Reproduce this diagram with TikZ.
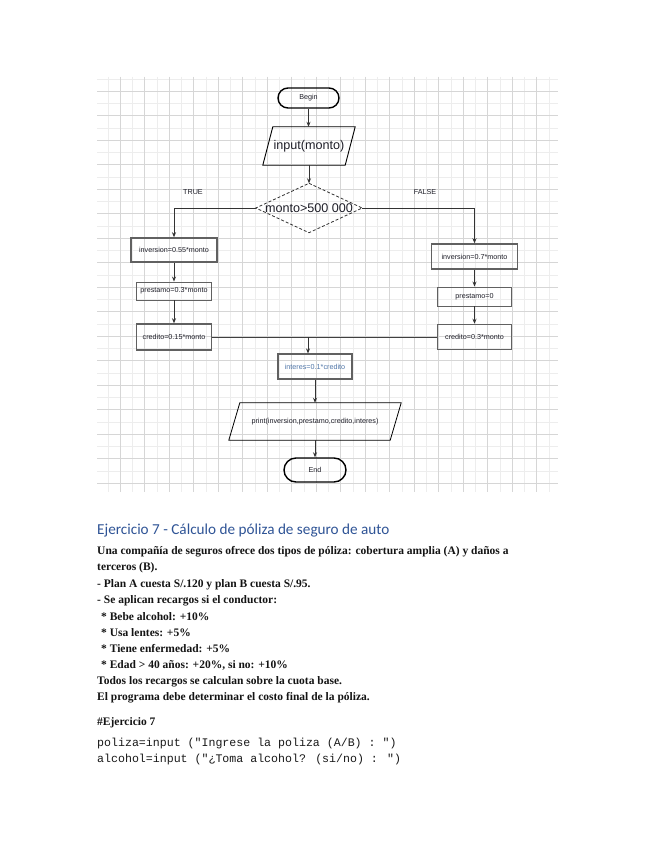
\documentclass[tikz,border=0pt]{standalone}
\usepackage{fontspec}
\setmainfont{Liberation Serif}
\newfontfamily\sansf{Liberation Sans}
\newfontfamily\headf{Carlito}
\newfontfamily\monof{Liberation Mono}
\usetikzlibrary{arrows.meta,calc}
\definecolor{headblue}{RGB}{47,84,150}
\definecolor{txtdark}{RGB}{30,30,40}
\definecolor{intcol}{RGB}{80,118,168}
\begin{document}
\begin{tikzpicture}[x=1pt,y=-1pt,
  gridmajor/.style={draw=black!16, line width=0.6pt},
  gridminor/.style={draw=black!7, line width=0.4pt},
  arr/.style={draw=black!80, line width=0.8pt, -{Stealth[length=5pt,width=4pt]}},
  conn/.style={draw=black!75, line width=0.8pt},
  flowtxt/.style={font=\sansf\fontsize{7.2}{8}\selectfont, text=txtdark},
  term/.style={draw=black, line width=1.4pt, inner sep=0pt, flowtxt},
  procthick/.style={draw=black!62, line width=1.5pt, inner sep=0pt, flowtxt},
  procthin/.style={draw=black!62, line width=0.9pt, inner sep=0pt, flowtxt},
  ioshape/.style={inner sep=0pt},
  bodytxt/.style={font=\bfseries\fontsize{11.5}{13}\selectfont, inner sep=0pt, text=black!92, anchor=base west},
  codetxt/.style={font=\monof\fontsize{11.6}{13}\selectfont, inner sep=0pt, text=black!90, anchor=base west},
  headtxt/.style={font=\headf\fontsize{15.2}{17}\selectfont, inner sep=0pt, text=headblue, anchor=base west}
]
\useasboundingbox (0,0) rectangle (655,848);
\fill[white] (0,0) rectangle (655,848);
% grid background
\foreach \k in {0,...,36} {\draw[gridminor] ({107.75+12.25*\k},77) -- ({107.75+12.25*\k},492);}
\foreach \k in {0,...,33} {\draw[gridminor] (97,{483-12.25*\k}) -- (558,{483-12.25*\k});}
\foreach \k in {0,...,17} {\draw[gridmajor] ({120+24.5*\k},77) -- ({120+24.5*\k},492);}
\foreach \k in {0,...,16} {\draw[gridmajor] (97,{483-24.5*\k}) -- (558,{483-24.5*\k});}

% terminals
\node[term, rounded corners=10pt, minimum width=61pt, minimum height=20pt] (begin) at (308.5,98) {Begin};
% input parallelogram
\node[ioshape, minimum width=92pt, minimum height=38pt, font=\sansf\fontsize{12.6}{14}\selectfont, text=txtdark] (inp) at (309,146) {input(monto)};
\draw[black, line width=0.9pt] ($(inp.north west)+(10,0)$) -- (inp.north east) -- ($(inp.south east)+(-10,0)$) -- (inp.south west) -- cycle;
% decision
\node[inner sep=0pt, minimum width=106pt, minimum height=49pt, font=\sansf\fontsize{12.6}{14}\selectfont, text=txtdark] (dec) at (309,208) {monto>500 000};
\draw[black!80, line width=0.8pt, dash pattern=on 3pt off 2pt] (dec.north) -- (dec.east) -- (dec.south) -- (dec.west) -- cycle;
\node[flowtxt, inner sep=0pt] (tl) at (193,192) {TRUE};
\node[flowtxt, inner sep=0pt] (fl) at (425,192) {FALSE};

% left branch
\node[procthick, minimum width=86pt, minimum height=24pt] (lb1) at (174,250) {inversion=0.55*monto};
\node[procthin, minimum width=75pt, minimum height=18pt] (lb2) at (174,291) {prestamo=0.3*monto};
\node[procthick, minimum width=75pt, minimum height=26pt] (lb3) at (174,337) {credito=0.15*monto};
% right branch
\node[procthick, minimum width=86pt, minimum height=25pt] (rb1) at (474.5,256.5) {inversion=0.7*monto};
\node[procthin, minimum width=74pt, minimum height=19pt] (rb2) at (474.5,296.5) {prestamo=0};
\node[procthick, minimum width=74pt, minimum height=25pt] (rb3) at (474.5,337) {credito=0.3*monto};
% merge
\node[procthick, line width=1.2pt, minimum width=74pt, minimum height=25pt, text=intcol] (ib) at (315,366.5) {interes=0.1*credito};
\node[ioshape, minimum width=172pt, minimum height=37pt, flowtxt] (pr) at (315,421.5) {print(inversion,prestamo,credito,interes)};
\draw[black, line width=0.8pt] ($(pr.north west)+(11,0)$) -- (pr.north east) -- ($(pr.south east)+(-11,0)$) -- (pr.south west) -- cycle;
\node[term, rounded corners=12pt, minimum width=62pt, minimum height=24pt] (end) at (315,470) {End};
\coordinate (m) at (308,337);

% connectors
\draw[arr] (begin.south) -- (begin.south |- inp.north);
\draw[arr] (inp.south) -- (dec.north);
\draw[arr] (dec.west) -| (lb1.north);
\draw[arr] (dec.east) -| (rb1.north);
\draw[arr] (lb1.south) -- (lb2.north);
\draw[arr] (lb2.south) -- (lb3.north);
\draw[arr] (rb1.south) -- (rb2.north);
\draw[arr] (rb2.south) -- (rb3.north);
\draw[conn] (lb3.east) -- (rb3.west);
\draw[arr] (m) -- (m |- ib.north);
\draw[arr] (ib.south -| pr.north) -- (pr.north);
\draw[arr] (pr.south) -- (end.north);

% text below
\node[headtxt] (h) at (97,534) {Ejercicio 7 - Cálculo de póliza de seguro de auto};
\node[bodytxt] (t1) at (97,554) {Una compañía de seguros ofrece dos tipos de póliza: cobertura amplia (A) y daños a};
\node[bodytxt] (t2) at (97,570) {terceros (B).};
\node[bodytxt] (t3) at (97,587) {- Plan A cuesta S/.120 y plan B cuesta S/.95.};
\node[bodytxt] (t4) at (97,603) {- Se aplican recargos si el conductor:};
\node[bodytxt] (t5) at (101,620) {* Bebe alcohol: +10\%};
\node[bodytxt] (t6) at (101,636) {* Usa lentes: +5\%};
\node[bodytxt] (t7) at (101,652) {* Tiene enfermedad: +5\%};
\node[bodytxt] (t8) at (101,668) {* Edad > 40 años: +20\%, si no: +10\%};
\node[bodytxt] (t9) at (97,684) {Todos los recargos se calculan sobre la cuota base.};
\node[bodytxt] (t10) at (97,700) {El programa debe determinar el costo final de la póliza.};
\node[bodytxt] (t11) at (97,725) {\#Ejercicio 7};
\node[codetxt] (c1) at (97,746) {poliza=input ("Ingrese la poliza (A/B) : ")};
\node[codetxt] (c2) at (97,762) {alcohol=input ("¿Toma alcohol? (si/no) : ")};
\end{tikzpicture}
\end{document}
